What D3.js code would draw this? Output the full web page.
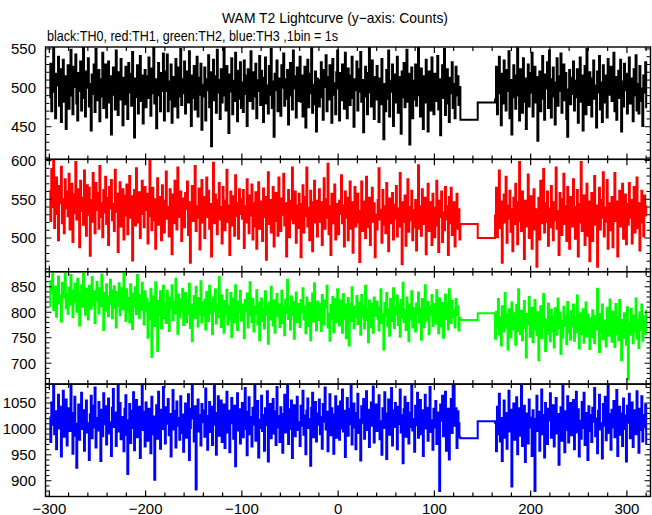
<!DOCTYPE html>
<html><head><meta charset="utf-8">
<script src="https://cdn.jsdelivr.net/npm/d3@7"></script>
<style>body{margin:0;background:#fff}text{font-family:"Liberation Sans",Arial,sans-serif}</style>
</head><body>
<script>
// ---- data ----
const titleText = "WAM T2 Lightcurve (y\u2212axis: Counts)";
const subtitleText = "black:TH0, red:TH1, green:TH2, blue:TH3 ,1bin = 1s";
const seriesNames = ["TH0","TH1","TH2","TH3"];
const seriesColors = ["#000000","#ff0000","#00ff00","#0000ff"];
const timesA = d3.range(-300, 127);   // 1 s bins before the gap
const gapTimes = [127, 145];          // long bins across the data gap
const timesB = d3.range(163, 321);    // 1 s bins after the gap
const endTime = 321;
const xTickLabels = [-300,-200,-100,0,100,200,300];
const yTickLabels = [[450,500,550],[500,550,600],[700,750,800,850],[900,950,1000,1050]];
const yDomains = [[408,552.5],[456.5,601.6],[659,879.6],[869.6,1086.6]];

const th0A = [488,531,470,509,552,495,461,518,503,540,477,524,456,498,536,482,515,447,506,529,
473,512,549,490,466,527,501,543,480,458,519,496,534,471,510,552,487,463,521,500,
538,476,505,445,517,492,530,469,550,502,484,523,457,511,489,545,474,508,530,462,
497,534,481,515,440,506,526,491,472,548,503,465,520,485,537,498,452,513,479,527,
509,460,532,494,518,477,546,501,436,512,488,529,467,505,541,483,516,454,499,523,
475,515,487,539,503,464,525,493,552,480,511,448,507,532,490,470,519,496,544,458,
521,496,543,470,508,485,530,455,514,499,476,537,503,462,526,489,550,478,511,493,
534,467,502,521,481,547,498,451,516,487,528,472,506,540,463,513,491,531,446,504,
489,526,458,511,497,542,475,520,425,502,536,484,515,468,549,494,510,460,524,481,
513,552,490,471,528,504,442,517,495,538,466,509,483,545,500,457,522,486,533,474,
507,469,535,492,516,451,524,498,483,547,505,473,520,489,531,461,510,496,541,478,
522,494,456,513,539,480,503,467,528,491,550,474,508,437,518,497,535,470,512,487,
464,529,500,544,477,511,486,523,453,505,532,490,472,548,499,515,462,526,483,507,
540,482,516,463,497,527,449,509,536,475,518,493,551,468,504,479,521,444,512,496,
476,510,533,488,459,523,501,542,470,514,485,529,497,455,537,491,506,466,520,548,
499,458,519,484,530,506,473,545,492,461,525,503,478,516,540,487,450,511,497,534,
471,524,495,546,482,510,443,503,527,489,466,519,552,494,476,535,508,460,514,485,
528,491,456,512,479,537,499,434,505,470,523,486,548,463,509,495,530,451,517,481,
502,540,468,514,497,441,521,488,532,475,506,549,482,518,427,493,526,461,509,485,
530,477,512,552,490,463,525,498,447,515,481,536,505,444,521,492,471,539,500,466,
518,483,507,541,472,511,439,496,529,487,550,465,503,524,480,456,513,493,533,474,
505,461,527,490,515,478,501];
const th0Gap = [459,481];
const th0B = [485,527,466,509,540,493,452,518,480,535,502,471,523,496,547,461,510,440,488,529,
505,473,516,551,490,458,524,497,468,538,482,512,447,503,530,476,519,494,545,463,
500,527,481,514,432,495,521,470,508,541,486,459,517,499,533,474,548,490,462,511,
526,489,453,507,538,477,515,496,544,468,502,530,484,519,460,437,498,523,479,513,
492,534,471,509,488,524,455,501,539,482,516,445,497,528,466,550,505,478,520,490,
463,512,535,486,503,449,521,494,541,472,507,456,529,498,481,516,462,537,491,510,
527,483,500,545,470,514,459,493,522,487,536,444,508,476,531,497,518,467,503,539,
480,512,496,457,524,490,542,471,505,467,528,499,483,451,516,494,533,475];

const th1A = [561,522,589,540,602,513,553,578,531,497,567,545,592,519,550,506,576,538,560,528,
583,511,547,570,495,556,532,598,524,563,541,488,574,535,552,517,587,546,503,568,
530,565,477,549,521,584,542,506,571,536,558,512,593,527,545,501,562,533,579,518,
552,491,566,538,575,523,544,509,588,534,557,482,548,572,515,539,563,498,555,529,
569,505,541,580,526,554,471,537,562,516,590,543,520,559,500,546,574,531,514,566,
536,557,493,528,600,542,510,565,523,550,486,539,577,517,553,532,497,568,544,507,
548,586,525,540,502,563,534,479,556,519,574,538,511,591,545,527,560,496,551,530,
514,558,537,573,504,546,468,531,567,522,552,593,509,541,526,564,485,543,575,520,
553,500,539,578,527,561,512,544,476,535,597,519,556,530,505,549,571,524,540,493,
566,533,510,548,588,521,542,478,560,537,516,554,503,581,528,545,499,563,531,550,
525,562,487,541,520,576,534,506,555,529,569,498,545,515,559,486,536,572,512,547,
538,496,564,527,553,472,543,585,518,549,507,531,566,489,541,558,522,503,578,534,
509,551,530,583,516,545,476,537,562,501,548,524,591,519,535,560,494,542,513,557,
544,475,532,568,507,553,528,591,515,539,497,561,533,483,546,574,520,548,502,530,
563,521,546,491,536,577,512,550,526,596,505,541,478,557,532,519,569,498,544,527,
505,548,531,581,519,542,489,560,526,552,497,536,573,512,546,481,530,566,515,540,
557,520,469,535,573,509,547,528,500,579,533,514,552,491,538,565,521,545,475,530,
511,549,590,524,536,494,562,517,541,506,571,527,483,551,534,519,558,498,543,525,
567,502,538,515,584,529,466,546,521,555,490,533,576,508,540,523,561,497,536,514,
549,484,527,594,512,541,503,563,530,518,552,479,538,570,509,546,525,491,557,520,
501,539,574,516,482,548,527,560,495,533,510,566,524,541,478,553,519,565,504,531,
546,489,529,557,512,537,498];
const th1Gap = [518,500];
const th1B = [529,565,501,540,587,513,547,468,531,556,520,579,494,542,525,561,508,537,483,552,
518,570,535,492,546,598,522,509,560,531,473,548,515,539,582,500,527,554,486,543,
563,511,537,463,526,552,498,574,533,519,589,507,545,521,560,490,538,514,567,529,
497,546,523,591,512,535,478,558,529,504,550,583,518,541,496,566,527,486,553,532,
515,576,540,499,531,562,476,544,520,598,509,536,555,491,528,570,503,547,470,524,
558,496,533,580,517,542,463,528,565,511,549,526,585,502,539,521,575,486,545,530,
510,553,488,536,584,522,547,476,533,561,515,540,570,499,528,556,492,544,517,571,
526,549,493,538,566,507,534,578,513,545,484,530,561,520,502,555,529,541];

const th2A = [812,861,838,879,804,826,850,791,843,870,817,833,782,858,829,845,876,808,836,797,
848,815,873,830,790,842,856,819,801,866,827,774,839,853,811,880,832,795,846,824,
786,852,829,807,869,814,841,779,823,860,835,798,847,812,874,820,765,838,803,855,
831,792,816,864,843,788,809,851,826,770,840,813,857,794,821,847,806,878,818,783,
845,801,828,780,855,819,767,837,810,849,796,873,822,789,834,805,858,814,776,841,
803,827,750,818,786,846,712,799,831,773,859,808,724,822,794,841,769,813,852,788,
818,779,842,801,763,829,808,853,785,821,797,866,812,758,835,790,826,803,846,775,
811,838,781,824,796,856,769,815,743,807,832,789,850,803,772,828,795,861,780,819,
792,825,766,840,806,783,852,797,818,757,829,802,845,778,814,790,869,809,771,833,
803,760,822,795,844,776,812,787,838,751,806,827,780,853,798,765,821,801,842,784,
815,789,749,824,802,837,770,808,859,793,781,826,762,811,797,843,776,819,745,804,
827,783,806,768,841,795,812,738,819,786,850,801,774,823,760,809,836,792,815,771,
806,842,779,813,755,825,798,864,787,810,766,831,794,820,748,803,839,781,816,796,
771,824,800,847,786,811,759,829,792,773,818,745,805,837,782,857,797,764,821,803,
785,816,763,834,799,776,823,809,852,770,797,744,814,788,830,761,806,826,781,845,
808,774,823,795,760,836,787,815,749,801,828,735,817,783,849,796,769,811,790,832,
777,819,801,756,834,791,812,768,852,785,806,741,823,798,771,816,760,829,793,807,
821,787,764,810,845,779,797,727,818,792,838,772,806,754,826,800,783,847,769,812,
796,833,775,814,752,824,790,858,781,805,765,829,799,743,815,786,841,770,808,793,
762,817,798,839,780,808,746,826,791,771,853,802,784,820,757,811,795,834,773,800,
816,778,843,792,759,827,801,772,818,750,806,835,787,814,766,845,797,779,822,790,
803,770,826,794,812,764,789];
const th2Gap = [785,798];
const th2B = [748,801,772,826,757,790,735,812,779,762,838,795,770,727,806,784,751,819,766,798,
781,736,814,763,845,792,757,803,745,788,822,769,711,797,776,830,752,785,809,741,
767,824,790,755,800,706,778,812,749,793,836,771,724,786,758,817,780,743,805,762,
791,731,808,775,756,827,769,799,718,784,750,811,773,794,737,820,760,787,746,803,
772,815,744,789,761,833,778,729,798,757,783,806,740,770,819,753,796,765,728,788,
751,804,773,739,792,766,846,781,722,797,760,815,747,784,768,733,809,776,754,825,
769,742,801,778,732,816,757,791,745,824,767,706,785,750,798,774,736,810,668,779,
756,807,771,739,794,762,827,748,786,730,800,765,815,744,777,792,758,803];

const th3A = [1022,975,1051,1008,1087,990,1034,961,1019,1066,1001,1043,947,1012,1074,985,1029,1057,968,1005,
1040,996,1083,1015,952,1031,1062,987,925,1010,1047,979,1025,1070,1000,1036,958,1018,1055,993,
1011,940,1028,1064,982,1045,1003,1080,964,1021,997,1052,1016,938,1037,986,1069,1009,1044,970,
1026,1059,991,1013,948,1041,1077,1004,1032,967,1018,1085,995,1050,980,1023,1006,957,1039,1065,
989,913,1017,1048,973,1035,1002,1071,959,1027,1056,984,1011,1043,944,1020,1087,998,1033,966,
1051,1007,977,1039,1015,953,1062,990,1024,902,1004,1046,981,1072,1012,962,1037,1000,1081,1019,
972,1042,1010,1058,988,1029,947,1016,1075,999,1035,964,1053,1006,1021,979,1063,992,1028,956,
1014,1049,983,1030,1067,940,1002,1039,1086,1020,976,1044,883,1009,1057,995,1027,968,1048,1013,
1036,985,1078,1001,960,1025,1052,994,1043,969,1017,1084,1008,950,1031,1063,987,1022,1055,975,
1003,1047,963,1019,1072,993,1035,955,1028,1060,1011,981,1045,928,1014,1069,997,1038,972,1026,
1050,984,1016,1079,1000,949,1033,1061,990,1023,966,1041,1008,1085,977,1030,1054,945,1018,1002,
1064,996,1027,958,1040,1007,1073,937,1021,1048,982,1012,1058,991,1034,969,1081,1003,1025,975,
1042,1010,954,1029,1066,993,1017,1084,971,1038,1000,1055,944,1020,1046,986,1032,1062,998,1013,
967,1045,1006,1074,989,1026,951,1035,1059,1002,1019,929,1041,1070,984,1015,1052,976,1030,1008,
1057,990,1023,962,1048,1014,1080,999,1033,957,1011,1067,988,1040,1005,952,1028,1063,983,1044,
1016,979,1053,1001,1076,995,1035,946,1022,1060,987,1039,1009,1085,970,1026,1049,1003,961,1031,
1068,992,1018,939,1044,1012,1058,981,1027,1073,998,1037,965,1020,1051,1006,1082,974,1024,1047,
996,1033,1065,980,1015,950,1040,1002,1071,1019,942,1030,1057,989,1011,1079,968,1036,1004,1050,
1021,961,1043,1009,1076,993,1027,934,1038,1062,985,1014,1050,972,1032,1004,1083,997,1019,956,
1045,1007,1070,983,1024,1056,990,1036,948,1012,1066,1001,1041,977,1029,1081,994,1017,960,1039,
1003,1054,971,1032,1010,880,1047,1016,1064,986,1028,1072,958,1023,1039,941,1013,1058,992,1087,
1085,1006,1040,963,1034,1011,984];
const th3Gap = [982,1015];
const th3B = [1012,957,1043,990,1068,976,1021,938,1004,1055,983,1031,962,1010,1074,995,1037,889,1018,1049,
979,1026,1061,951,1008,1040,987,1084,967,1015,1045,936,999,1030,972,1057,1003,1022,948,1036,
985,880,1019,1064,996,1033,958,1011,1076,990,1027,945,1050,1005,971,1039,1017,1069,983,1024,
1046,966,1008,1060,991,1029,931,1001,1042,977,1085,1013,955,1034,998,1063,974,1021,1050,988,
1007,1056,961,1025,1072,993,1038,947,1016,981,1052,1002,1070,969,1031,1009,940,1044,996,1027,
975,1041,1014,1079,986,1020,953,1035,1066,999,1011,943,1048,1006,1062,978,1023,1086,992,1029,
960,1037,1003,1054,984,1019,1075,948,1010,1043,989,1030,967,1059,1000,1026,937,1045,1012,1068,
982,1021,1051,965,1008,1036,990,1073,1015,954,1039,998,1063,976,1027,1004,1047,971];

const seriesA = [th0A, th1A, th2A, th3A];
const seriesGap = [th0Gap, th1Gap, th2Gap, th3Gap];
const seriesB = [th0B, th1B, th2B, th3B];

// ---- layout ----
const W = 652, H = 515;
const left = 45.5, right = 650.5;
const panelTops = [47, 159.3, 271.7, 384.1];
const panelH = 112.4;

const svg = d3.select("body").append("svg").attr("width", W).attr("height", H);
const x = d3.scaleLinear().domain([-304, 324.5]).range([left, right]);

svg.append("text").attr("x", 335).attr("y", 23).attr("text-anchor","middle")
  .attr("font-size", 14.5).attr("textLength", 226).attr("lengthAdjust", "spacingAndGlyphs")
  .text(titleText);
svg.append("text").attr("x", 47).attr("y", 41).attr("font-size", 14.5)
  .attr("textLength", 291).attr("lengthAdjust", "spacingAndGlyphs").text(subtitleText);

const defs = svg.append("defs");

seriesNames.forEach((name, i) => {
  const top = panelTops[i], bottom = top + panelH;
  const y = d3.scaleLinear().domain(yDomains[i]).range([bottom, top]);
  const g = svg.append("g");

  defs.append("clipPath").attr("id", "clip" + i).append("rect")
    .attr("x", left).attr("y", top).attr("width", right - left).attr("height", panelH);

  const pts = [];
  timesA.forEach((t, k) => pts.push([t, seriesA[i][k]]));
  gapTimes.forEach((t, k) => pts.push([t, seriesGap[i][k]]));
  timesB.forEach((t, k) => pts.push([t, seriesB[i][k]]));
  pts.push([endTime, seriesB[i][seriesB[i].length - 1]]);

  const line = d3.line().x(d => x(d[0])).y(d => y(d[1])).curve(d3.curveStepAfter);
  g.append("path").attr("clip-path", "url(#clip" + i + ")")
    .attr("d", line(pts)).attr("fill", "none")
    .attr("stroke", seriesColors[i]).attr("stroke-width", 2);

  g.append("rect").attr("x", left).attr("y", top).attr("width", right - left).attr("height", panelH)
    .attr("fill", "none").attr("stroke", "#000").attr("stroke-width", 1.4);

  const [y0, y1] = yDomains[i];
  d3.range(Math.ceil(y0 / 10) * 10, y1, 10).forEach(v => {
    const len = v % 50 === 0 ? 6 : 4;
    g.append("line").attr("x1", left).attr("x2", left + len).attr("y1", y(v)).attr("y2", y(v))
      .attr("stroke", "#000").attr("stroke-width", 1);
    g.append("line").attr("x1", right).attr("x2", right - len).attr("y1", y(v)).attr("y2", y(v))
      .attr("stroke", "#000").attr("stroke-width", 1);
  });
  yTickLabels[i].forEach(v => {
    g.append("text").attr("x", 36).attr("y", y(v)).attr("dy", "0.36em")
      .attr("text-anchor", "end").attr("font-size", 15).text(v);
  });

  d3.range(-300, 325, 20).forEach(v => {
    const len = v % 100 === 0 ? 6 : 4;
    g.append("line").attr("x1", x(v)).attr("x2", x(v)).attr("y1", top).attr("y2", top + len)
      .attr("stroke", "#000").attr("stroke-width", 1.2);
    g.append("line").attr("x1", x(v)).attr("x2", x(v)).attr("y1", bottom).attr("y2", bottom - len)
      .attr("stroke", "#000").attr("stroke-width", 1.2);
  });
});

const lastBottom = panelTops[3] + panelH;
xTickLabels.forEach(v => {
  svg.append("text").attr("x", x(v)).attr("y", lastBottom + 17).attr("text-anchor", "middle")
    .attr("font-size", 15).text(String(v).replace("-", "\u2212"));
});
</script>
</body></html>
